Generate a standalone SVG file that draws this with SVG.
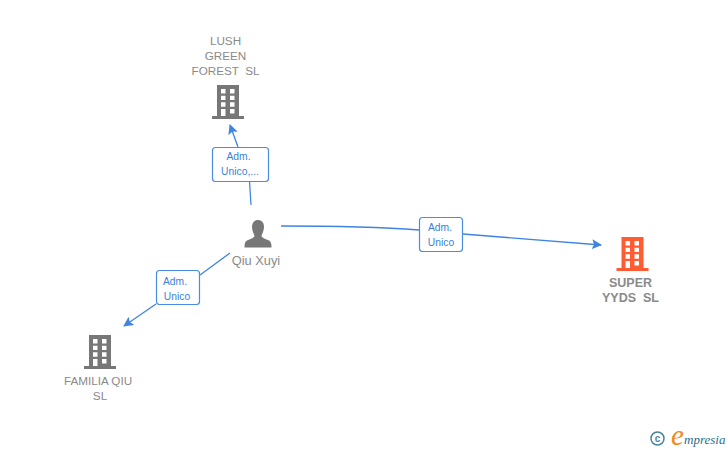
<svg xmlns="http://www.w3.org/2000/svg" width="728" height="450" viewBox="0 0 728 450">
<style>
text{font-family:"Liberation Sans",Arial,sans-serif;white-space:pre}
.n{font-size:11.7px;fill:#8a8a8a;text-anchor:middle}
.b{font-weight:bold;font-size:12.5px}
.l{font-size:10.300px;fill:#3a7fd9;text-anchor:middle}
.c{fill:none;stroke:#3f84e0;stroke-width:1.3}
.box{fill:#fff;stroke:#4a8ce2;stroke-width:1.2}
</style>
<defs>
<marker id="a" markerWidth="12" markerHeight="12" refX="9" refY="5" orient="auto" markerUnits="userSpaceOnUse"><path d="M0 0L10 5L0 10L2 5Z" fill="#3f84e0"/></marker>
<path id="bld" fill-rule="evenodd" d="M5 0H27V31H32V34H0V31H5ZM9 4V8.500H13.500V4ZM18 4V8.500H22.500V4ZM9 10.700V15H13.500V10.700ZM18 10.700V15H22.500V10.700ZM9 17.300V21.700H13.500V17.300ZM18 17.300V21.700H22.500V17.300ZM9 24V31H13.500V24ZM18 24V28.500H22.500V24Z"/>
</defs>
<rect width="728" height="450" fill="#fff"/>
<g id="connectors">
<path class="c" d="M251 205L249.500 181"/>
<path class="c" marker-end="url(#a)" d="M238 147L230 125"/>
<path class="c" d="M281 226C330 226 380 227 419 230"/>
<path class="c" marker-end="url(#a)" d="M463 234L601 245"/>
<path class="c" d="M230 253L200 275"/>
<path class="c" marker-end="url(#a)" d="M156 304L124 326"/>
</g>
<g id="label-lush"><rect class="box" x="212.500" y="147.500" width="56" height="34" rx="3"/><text class="l" x="238.500" y="160">Adm.</text><text class="l" x="240" y="175">Unico,...</text></g>
<g id="label-super"><rect class="box" x="419.500" y="217.500" width="43" height="34" rx="3"/><text class="l" x="440" y="231">Adm.</text><text class="l" x="441" y="246">Unico</text></g>
<g id="label-familia"><rect class="box" x="156.500" y="270.500" width="43" height="34" rx="3"/><text class="l" x="175" y="285">Adm.</text><text class="l" x="177" y="300">Unico</text></g>
<g id="node-lush"><text class="n" x="225.500" y="45">LUSH</text><text class="n" x="225.500" y="60">GREEN</text><text class="n" x="225.500" y="75">FOREST  SL</text><use href="#bld" x="212" y="85" fill="#777"/></g>
<g id="node-person"><path fill="#777" d="M258 220C262 220 264 223 264 227C264 231 262 234 261.500 236C262 238 266 239 269 240.500C271 241.500 271.500 244 271.500 247.500H244.500C244.500 244 245 241.500 247 240.500C250 239 254 238 254.500 236C254 234 252 231 252 227C252 223 254 220 258 220Z"/><text class="n" x="256" y="265" style="font-size:12.800px">Qiu Xuyi</text></g>
<g id="node-super"><use href="#bld" x="616.500" y="237" fill="#ff5c33"/><text class="n b" x="630.500" y="287">SUPER</text><text class="n b" x="630.500" y="302">YYDS  SL</text></g>
<g id="node-familia"><use href="#bld" x="84" y="335" fill="#777"/><text class="n" x="98" y="385">FAMILIA QIU</text><text class="n" x="100" y="400">SL</text></g>
<g id="logo"><circle cx="657.500" cy="438.500" r="6.500" fill="none" stroke="#4a8598" stroke-width="1.500"/><text x="657.500" y="442" text-anchor="middle" style="font-size:10px;font-weight:bold;fill:#4a8598">c</text><text x="671" y="445" style="font-family:'Liberation Serif',serif;font-style:italic;font-size:29px;fill:#f08a1d">e</text><text x="684" y="444" style="font-family:'Liberation Serif',serif;font-style:italic;font-size:13px;fill:#2a6f86">mpresia</text></g>
</svg>
